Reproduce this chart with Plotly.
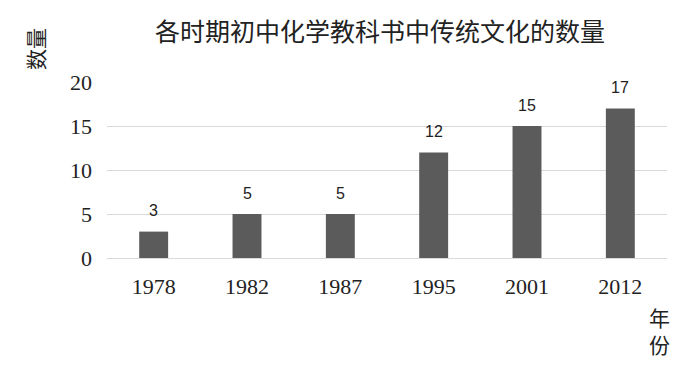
import plotly.graph_objects as go

years = ["1978", "1982", "1987", "1995", "2001", "2012"]
counts = [3, 5, 5, 12, 15, 17]
y_ticks = [0, 5, 10, 15, 20]

title_text = "各时期初中化学教科书中传统文化的数量"
y_label = "数量"
x_label = "年份"

CJK = "Noto Sans CJK SC"
SERIF = "Liberation Serif, " + CJK

# page body adds an 8px offset; compensate
OFF = 8
W, H = 696, 369
L, R, T, B = 107 - OFF, 29 + OFF, 82 - OFF, 111 + OFF
PW, PH = W - L - R, H - T - B

fig = go.Figure()
fig.add_trace(go.Bar(
    x=years, y=counts,
    marker=dict(color="#5b5b5b", line=dict(width=0)),
    width=0.31,
))

for i, c in enumerate(counts):
    fig.add_annotation(
        x=i, y=c, xref="x", yref="y", text=str(c), showarrow=False,
        yanchor="middle", yshift=21,
        font=dict(family="Liberation Sans", size=16, color="#222222"),
    )

fig.add_annotation(
    x=(35 - OFF - L) / PW, y=1 + (T - (49 - OFF)) / PH, xref="paper", yref="paper",
    text=y_label, showarrow=False, textangle=-90,
    xanchor="center", yanchor="middle",
    font=dict(family=CJK, size=21, color="#222222"),
)
fig.add_annotation(
    x=1 + ((659 - OFF) - (W - R)) / PW, y=-((330 - OFF) - (H - B)) / PH,
    xref="paper", yref="paper", text=x_label[0] + "<br>" + x_label[1], showarrow=False,
    xanchor="center", yanchor="middle",
    font=dict(family=CJK, size=21, color="#222222"),
)

fig.update_layout(
    width=W, height=H,
    margin=dict(l=L, r=R, t=T, b=B),
    paper_bgcolor="white", plot_bgcolor="white",
    showlegend=False,
    title=dict(
        text=title_text, x=(380 - OFF) / W, xanchor="center", y=1 - (32 - OFF) / H, yanchor="middle",
        font=dict(family=CJK, size=25, color="#222222"),
    ),
    xaxis=dict(
        type="category", categoryorder="array", categoryarray=years,
        range=[-0.5, len(years) - 0.5],
        showgrid=False, showline=False, zeroline=False, ticks="",
        tickfont=dict(family=SERIF, size=22, color="#222222"),
        ticklabelstandoff=13,
    ),
    yaxis=dict(
        range=[0, 20], tickvals=y_ticks, ticktext=[str(v) for v in y_ticks],
        showgrid=True, gridcolor="#d9d9d9", gridwidth=1,
        zeroline=True, zerolinecolor="#d9d9d9", zerolinewidth=1,
        showline=False, ticks="",
        tickfont=dict(family=SERIF, size=22, color="#222222"),
        ticklabelstandoff=14,
    ),
)

fig.write_html("out.html")
